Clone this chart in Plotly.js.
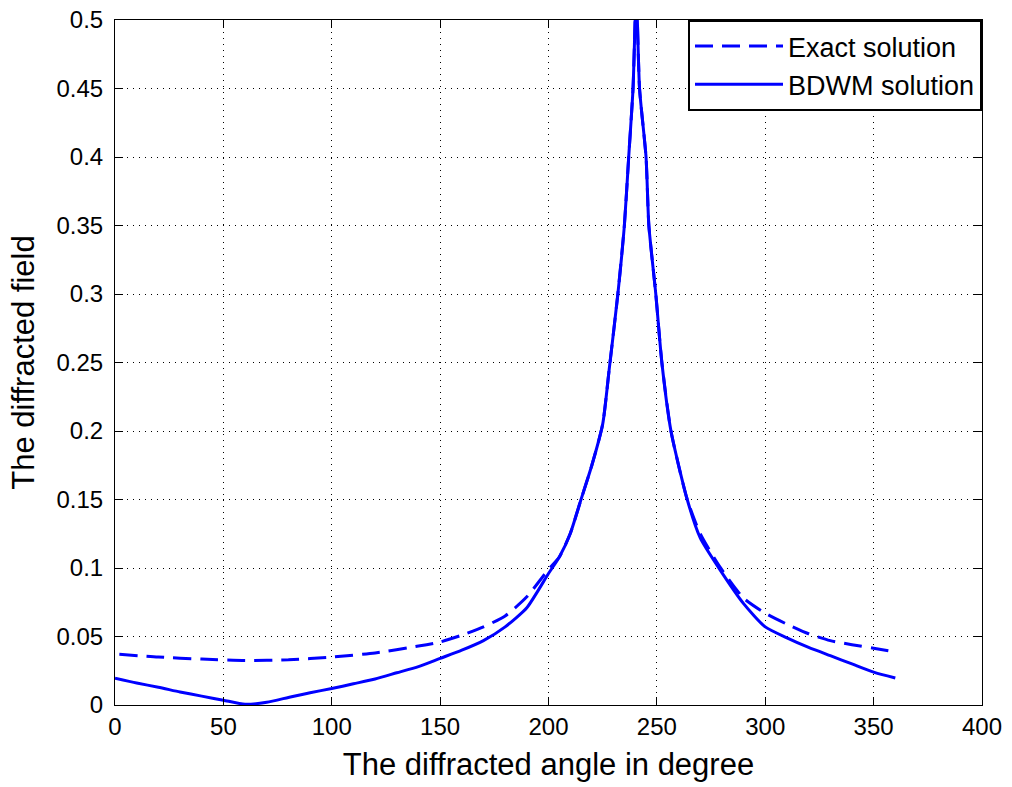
<!DOCTYPE html>
<html>
<head>
<meta charset="utf-8">
<script src="https://cdn.plot.ly/plotly-3.0.1.min.js"></script>
<style>html,body{margin:0;padding:0;background:#fff;}#chart{width:1012px;height:787px;}</style>
</head>
<body>
<div id="chart"></div>
<script>
// Exact solution (dashed)
const exactAngle = [2, 20, 40, 60, 80, 100, 120, 140, 150, 160, 170, 180, 190, 200, 205, 210, 215, 220, 225, 228, 232, 235, 237, 239, 240.5, 242, 245, 246.3, 249.5, 252.3, 256.5, 264, 270, 279, 290, 300, 310, 320, 330, 340, 350, 360];
const exactField = [0.037, 0.035, 0.0335, 0.0325, 0.033, 0.035, 0.038, 0.043, 0.046, 0.051, 0.057, 0.065, 0.079, 0.099, 0.108, 0.125, 0.15, 0.175, 0.205, 0.245, 0.30, 0.35, 0.40, 0.45, 0.52, 0.45, 0.40, 0.35, 0.30, 0.25, 0.20, 0.15, 0.125, 0.101, 0.078, 0.067, 0.059, 0.052, 0.047, 0.044, 0.0415, 0.0387];

// BDWM solution (solid)
const bdwmAngle = [0, 10, 20, 30, 40, 50, 60, 70, 80, 90, 100, 110, 120, 130, 140, 150, 160, 170, 180, 190, 200, 205, 210, 215, 220, 225, 228, 232, 235, 237, 239, 240.5, 242, 245, 246.3, 249.5, 252.3, 256.5, 264, 270, 279, 290, 300, 310, 320, 330, 340, 350, 360];
const bdwmField = [0.0195, 0.016, 0.013, 0.0095, 0.0065, 0.0035, 0.0005, 0.002, 0.0055, 0.009, 0.012, 0.0155, 0.019, 0.0235, 0.028, 0.034, 0.040, 0.047, 0.057, 0.071, 0.096, 0.108, 0.125, 0.15, 0.175, 0.205, 0.245, 0.30, 0.35, 0.40, 0.45, 0.52, 0.45, 0.40, 0.35, 0.30, 0.25, 0.20, 0.15, 0.122, 0.099, 0.074, 0.057, 0.049, 0.042, 0.036, 0.030, 0.024, 0.0197];

const seriesNames = ["Exact solution", "BDWM solution"];
const xTickVals = [0, 50, 100, 150, 200, 250, 300, 350, 400];
const xTickText = ["0", "50", "100", "150", "200", "250", "300", "350", "400"];
const yTickVals = [0, 0.05, 0.1, 0.15, 0.2, 0.25, 0.3, 0.35, 0.4, 0.45, 0.5];
const yTickText = ["0", "0.05", "0.1", "0.15", "0.2", "0.25", "0.3", "0.35", "0.4", "0.45", "0.5"];

const font = "Liberation Sans, Arial, sans-serif";

const traces = [
  {x: exactAngle, y: exactField, type: "scatter", mode: "lines", name: seriesNames[0],
   line: {color: "#0000ff", width: 3, dash: "18px,9px", shape: "spline", smoothing: 0.6}},
  {x: bdwmAngle, y: bdwmField, type: "scatter", mode: "lines", name: seriesNames[1],
   line: {color: "#0000ff", width: 3, shape: "spline", smoothing: 0.6}}
];

const axisCommon = {
  showline: true, linecolor: "#000", linewidth: 1, mirror: "ticks",
  ticks: "inside", ticklen: 8, tickcolor: "#000", tickwidth: 1,
  showgrid: true, gridcolor: "#000", gridwidth: 1, griddash: "1px,5px",
  zeroline: false, tickfont: {family: font, size: 24, color: "#000"}
};

const layout = {
  width: 1012, height: 787,
  margin: {l: 115, r: 30, t: 20, b: 82},
  paper_bgcolor: "#fff", plot_bgcolor: "#fff",
  showlegend: true,
  legend: {x: 1, y: 1, xanchor: "right", yanchor: "top",
    bgcolor: "#fff", bordercolor: "#000", borderwidth: 2,
    font: {family: font, size: 27, color: "#000"}, itemwidth: 88,
    tracegroupgap: 0},
  xaxis: Object.assign({}, axisCommon, {
    range: [0, 400], tickvals: xTickVals, ticktext: xTickText,
    title: {text: "The diffracted angle in degree", font: {family: font, size: 31, color: "#000"}, standoff: 14}
  }),
  yaxis: Object.assign({}, axisCommon, {
    range: [0, 0.5], tickvals: yTickVals, ticktext: yTickText, ticklabelstandoff: 6,
    title: {text: "The diffracted field", font: {family: font, size: 31, color: "#000"}, standoff: 12}
  })
};

Plotly.newPlot("chart", traces, layout, {displayModeBar: false, staticPlot: true});
</script>
</body>
</html>
